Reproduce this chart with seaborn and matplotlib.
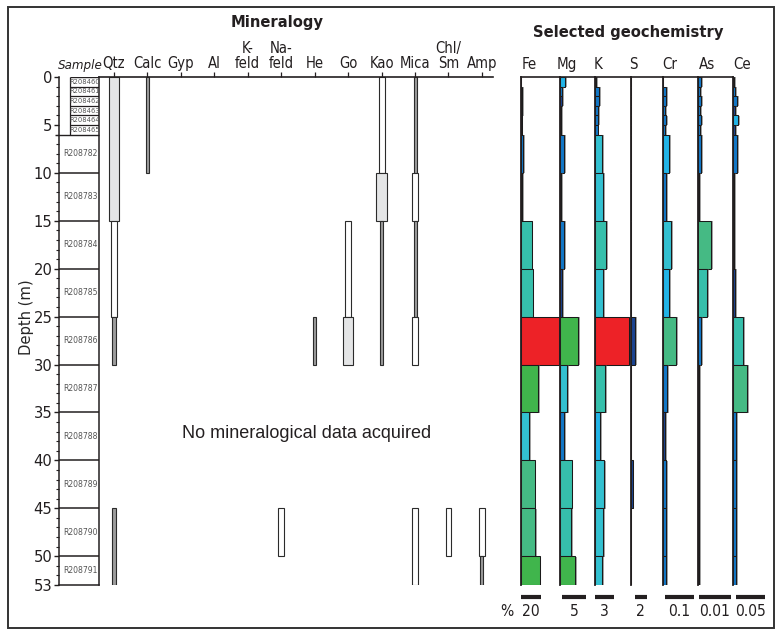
import numpy as np
import matplotlib
matplotlib.use('Agg')
import matplotlib.pyplot as plt
import matplotlib.patheffects as pe
from matplotlib.patches import Rectangle
from matplotlib import font_manager as fm
import seaborn as sns

# ---------------- data ----------------
sample_ids = ['R208460', 'R208461', 'R208462', 'R208463', 'R208464', 'R208465',
              'R208782', 'R208783', 'R208784', 'R208785', 'R208786', 'R208787',
              'R208788', 'R208789', 'R208790', 'R208791']
sample_top = [0, 1, 2, 3, 4, 5, 6, 10, 15, 20, 25, 30, 35, 40, 45, 50]
sample_bottom = [1, 2, 3, 4, 5, 6, 10, 15, 20, 25, 30, 35, 40, 45, 50, 53]
depth_ticks = [0, 5, 10, 15, 20, 25, 30, 35, 40, 45, 50, 53]

minerals = ['Qtz', 'Calc', 'Gyp', 'Al', 'K-\nfeld', 'Na-\nfeld', 'He', 'Go',
            'Kao', 'Mica', 'Chl/\nSm', 'Amp']
# mineral occurrences (abundance class: 1 trace, 2 minor, 3 major)
min_name = ['Qtz', 'Qtz', 'Qtz', 'Qtz', 'Calc', 'Na-\nfeld', 'He', 'Go', 'Go',
            'Kao', 'Kao', 'Kao', 'Mica', 'Mica', 'Mica', 'Mica', 'Mica',
            'Chl/\nSm', 'Amp', 'Amp']
min_top = [0, 15, 25, 45, 0, 45, 25, 15, 25, 0, 10, 15, 0, 10, 15, 25, 45, 45, 45, 50]
min_bottom = [15, 25, 30, 53, 10, 50, 30, 25, 30, 10, 15, 30, 10, 15, 25, 30, 53, 50, 50, 53]
min_class = [3, 2, 1, 1, 1, 2, 1, 2, 3, 2, 3, 1, 1, 2, 1, 2, 2, 2, 2, 1]

elements = ['Fe', 'Mg', 'K', 'S', 'Cr', 'As', 'Ce']
scale_values = [20, 5, 3, 2, 0.1, 0.01, 0.05]
scale_labels = ['20', '5', '3', '2', '0.1', '0.01', '0.05']

fe = [0.3, 0.8, 0.8, 0.8, 0.5, 0.5, 2.3, 1.0, 10.5, 11.5, 38, 17, 8, 13.5, 14, 18.5]
mg = [1.05, 0.45, 0.35, 0.3, 0.25, 0.25, 0.75, 0.3, 0.9, 0.4, 3.8, 1.5, 0.9, 2.4, 2.2, 3.1]
k = [0.1, 0.6, 0.6, 0.5, 0.45, 0.4, 1.15, 1.2, 1.7, 1.3, 5.4, 1.6, 0.8, 1.4, 1.3, 1.15]
s = [0.08, 0.08, 0.08, 0.08, 0.08, 0.08, 0.08, 0.08, 0.1, 0.08, 0.7, 0.08, 0.08, 0.3, 0.08, 0.08]
cr = [0.002, 0.010, 0.013, 0.009, 0.013, 0.009, 0.021, 0.013, 0.028, 0.023, 0.045,
      0.016, 0.008, 0.011, 0.010, 0.011]
as_ = [0.0009, 0.0006, 0.001, 0.0006, 0.001, 0.0007, 0.0009, 0.0003, 0.004, 0.0029,
       0.0008, 0.0002, 0.0002, 0.0002, 0.0002, 0.0002]
ce = [0.002, 0.0046, 0.007, 0.004, 0.0086, 0.004, 0.007, 0.002, 0.003, 0.0046, 0.018,
      0.024, 0.005, 0.0063, 0.006, 0.006]
# anomaly class of each value (0 lowest ... 7 highest)
fe_cls = [0, 0, 0, 0, 0, 0, 1, 0, 4, 4, 7, 6, 3, 5, 5, 6]
mg_cls = [2, 1, 0, 0, 0, 0, 1, 0, 1, 0, 6, 3, 1, 4, 4, 6]
k_cls = [0, 1, 1, 1, 1, 1, 3, 3, 4, 3, 7, 4, 2, 3, 3, 3]
s_cls = [0, 0, 0, 0, 0, 0, 0, 0, 0, 0, 0, 0, 0, 0, 0, 0]
cr_cls = [0, 1, 1, 1, 1, 1, 2, 1, 3, 2, 5, 1, 0, 1, 1, 1]
as_cls = [1, 1, 1, 1, 1, 1, 1, 0, 5, 4, 1, 0, 0, 0, 0, 0]
ce_cls = [0, 1, 1, 0, 2, 0, 1, 0, 0, 0, 4, 5, 1, 1, 1, 1]

geo_values = [fe, mg, k, s, cr, as_, ce]
geo_classes = [fe_cls, mg_cls, k_cls, s_cls, cr_cls, as_cls, ce_cls]

# ---------------- style ----------------
sns.set_theme(style='white')

names = {f.name for f in fm.fontManager.ttflist}
dejavu_cond = any(f.name == 'DejaVu Sans' and str(f.stretch) in ('condensed', '600', 'semi-condensed')
                  or 'Condensed' in f.fname and 'DejaVuSans' in f.fname
                  for f in fm.fontManager.ttflist)
if 'Liberation Sans Narrow' in names:
    FONT = ['Liberation Sans Narrow', 'DejaVu Sans']
    STRETCH = 'normal'
    FS = 1.1
elif dejavu_cond:
    FONT = ['DejaVu Sans']
    STRETCH = 'condensed'
    FS = 1.0
else:
    FONT = ['Liberation Sans', 'DejaVu Sans']
    STRETCH = 'normal'
    FS = 0.95
plt.rcParams['font.family'] = FONT
plt.rcParams['font.stretch'] = STRETCH
plt.rcParams['text.color'] = '#231f20'
plt.rcParams['axes.edgecolor'] = '#231f20'
plt.rcParams['xtick.color'] = '#231f20'
plt.rcParams['ytick.color'] = '#231f20'

class_colors = ['#1b4390', '#1277c7', '#22b3e6', '#33c0d0', '#36bfab', '#45ba84',
                '#40b54c', '#ed2227']
min_width = {1: 0.09, 2: 0.175, 3: 0.315}
min_face = {1: '#9d9d9d', 2: '#ffffff', 3: '#e4e5e6'}

W, H = 775, 630
fig = plt.figure(figsize=(W / 100, H / 100), dpi=100)
fig.patch.set_facecolor('white')


def fx(px):
    return px / W


def fy(py):
    return 1 - py / H


Y0, Y1 = 77, 585
ax_bottom = fy(Y1)
ax_height = (Y1 - Y0) / H

# ---------------- sample / depth column ----------------
ax_s = fig.add_axes([fx(59), ax_bottom, fx(99) - fx(59), ax_height])
ax_s.patch.set_visible(False)
ax_s.set_xlim(0, 40)
ax_s.set_ylim(53, 0)
ax_s.spines['top'].set_visible(False)
for sp in ['left', 'right', 'bottom']:
    ax_s.spines[sp].set_linewidth(1.1)
ax_s.set_xticks([])
ax_s.set_yticks(depth_ticks)
ax_s.set_yticklabels([str(d) for d in depth_ticks])
ax_s.set_yticks(np.arange(0, 54, 1), minor=True)
ax_s.tick_params(axis='y', which='major', direction='out', length=3.3, width=1.0,
                 pad=1.5, labelsize=11.8 * FS, left=True)
ax_s.tick_params(axis='y', which='minor', direction='out', length=2.3, width=0.8, left=True)
ax_s.set_ylabel('Depth (m)', fontsize=11.8 * FS)
ax_s.yaxis.set_label_coords(-0.62, 0.528)

small_x0 = 10.5
for t in sample_top:
    if t == 0:
        ax_s.hlines(t, small_x0, 40, color='#231f20', lw=1.0)
    elif t < 6:
        ax_s.hlines(t, small_x0, 40, color='#231f20', lw=0.9)
    elif t == 6:
        ax_s.hlines(t, -4, 40, color='#231f20', lw=1.0, clip_on=False)
    else:
        ax_s.hlines(t, 0, 40, color='#231f20', lw=1.1)
ax_s.vlines(small_x0, 0, 6, color='#231f20', lw=0.9)
for sid, t, b in zip(sample_ids, sample_top, sample_bottom):
    if b <= 6:
        ax_s.text((small_x0 + 40) / 2, (t + b) / 2, sid, ha='center', va='center',
                  fontsize=5.4 * FS, color='#555555')
    else:
        ax_s.text(21.5, (t + b) / 2, sid, ha='center', va='center',
                  fontsize=6.1 * FS, color='#555555')

fig.text(fx(80), fy(69), 'Sample', ha='center', va='baseline', fontsize=9.5 * FS,
         style='italic')

# ---------------- mineralogy ----------------
pos0, step = 114, 33.45
ax_m = fig.add_axes([fx(99), ax_bottom, fx(493) - fx(99), ax_height])
ax_m.patch.set_visible(False)
ax_m.set_xlim((99 - pos0) / step, (493 - pos0) / step)
ax_m.set_ylim(53, 0)
for sp in ['left', 'right', 'bottom']:
    ax_m.spines[sp].set_visible(False)
ax_m.spines['top'].set_linewidth(1.2)
ax_m.set_yticks([])
ax_m.xaxis.tick_top()
ax_m.set_xticks(range(len(minerals)))
ax_m.set_xticklabels(minerals, fontsize=10.6 * FS, linespacing=1.0)
ax_m.tick_params(axis='x', which='major', direction='out', length=3.8, width=0.9,
                 pad=0.8, top=True, bottom=False)
ax_m.grid(False)

for name, t, b, c in zip(min_name, min_top, min_bottom, min_class):
    ax_m.bar(minerals.index(name), b - t, bottom=t, width=min_width[c],
             color=min_face[c], edgecolor='#2b2b2b', linewidth=0.8)

fig.text(fx(277), fy(22), 'Mineralogy', ha='center', va='center', fontsize=11.8 * FS,
         fontweight='bold')
fig.text(fx(307), fy(433), 'No mineralogical data acquired', ha='center',
         va='center', fontsize=13, family=['Liberation Sans', 'DejaVu Sans'],
         stretch='normal')

# ---------------- geochemistry ----------------
baselines = [521, 560, 595, 630.7, 662.7, 698, 732.7]
px_per_unit = [1.0, 4.8, 6.33, 6.0, 290.0, 3200.0, 580.0]
label_x = [529, 567, 598, 633, 670, 707, 742]
bar_offset_px = [0, 2, 0, 4, 2, 1, 3]
heights = np.subtract(sample_bottom, sample_top)
shadow = [pe.SimplePatchShadow(offset=(1.4, -0.2), shadow_rgbFace='0.35', alpha=0.55),
          pe.Normal()]

for i, el in enumerate(elements):
    left = baselines[i]
    right = baselines[i + 1] if i + 1 < len(baselines) else 771
    ax = fig.add_axes([fx(left), ax_bottom, fx(right) - fx(left), ax_height])
    ax.patch.set_visible(False)
    ax.set_ylim(53, 0)
    ax.set_xlim(0, (right - left) / px_per_unit[i])
    ax.set_xticks([])
    ax.set_yticks([])
    ax.grid(False)
    for sp in ['right', 'bottom']:
        ax.spines[sp].set_visible(False)
    ax.spines['left'].set_linewidth(1.3)
    ax.spines['top'].set_linewidth(1.2)
    if i == len(elements) - 1:
        ax.spines['top'].set_visible(False)
    ax.barh(sample_top, geo_values[i], height=heights, left=0, align='edge',
            color=[class_colors[c] for c in geo_classes[i]], edgecolor='#1a1a1a',
            linewidth=0.75, path_effects=shadow)
    # scale bar
    off = bar_offset_px[i] / px_per_unit[i]
    tr = ax.get_xaxis_transform()
    ybar = -(597 - Y1) / (Y1 - Y0)
    ax.plot([off, off + scale_values[i]], [ybar, ybar], transform=tr, color='#231f20',
            lw=3.0, solid_capstyle='butt', clip_on=False)
    ax.text(off + scale_values[i] / 2, -(612 - Y1) / (Y1 - Y0), scale_labels[i],
            transform=tr, ha='center', va='center', fontsize=11.2 * FS, clip_on=False)
    fig.text(fx(label_x[i]), fy(69), el, ha='center', va='baseline', fontsize=10.8 * FS)

fig.text(fx(507), fy(612), '%', ha='center', va='center', fontsize=11.2 * FS)
fig.text(fx(628), fy(32), 'Selected geochemistry', ha='center', va='center',
         fontsize=11.8 * FS, fontweight='bold')

# outer frame
fig.add_artist(Rectangle((fx(8), fy(628)), fx(774) - fx(8), fy(7) - fy(628),
                         transform=fig.transFigure, fill=False, lw=1.4,
                         edgecolor='#333333'))

fig.savefig('out.png', dpi=100, facecolor='white')
